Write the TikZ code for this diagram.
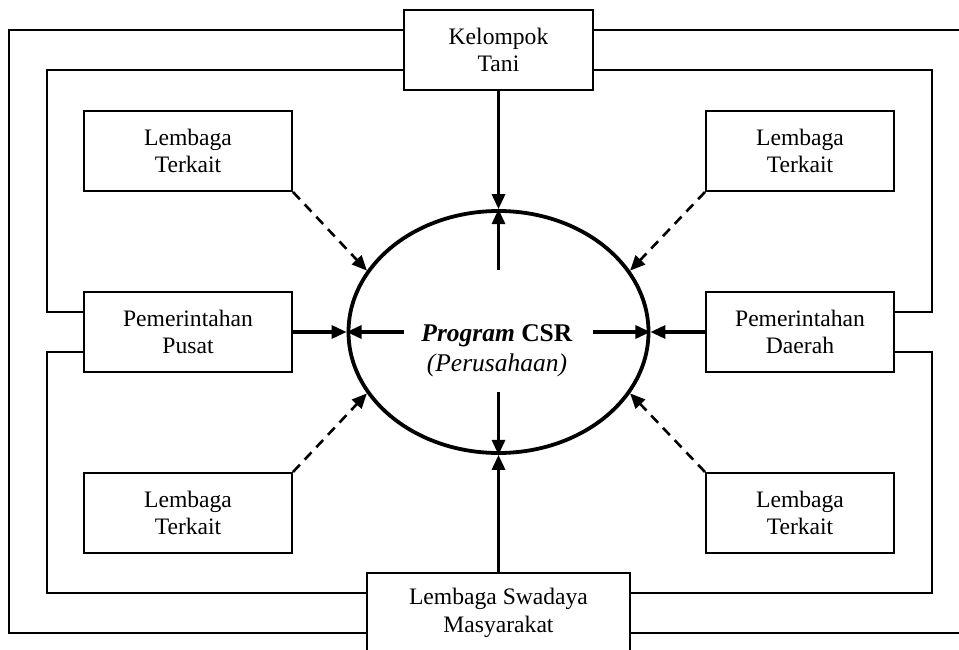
\documentclass[tikz,border=0pt]{standalone}
\usepackage{fontspec}
\setmainfont{Liberation Serif}
\usetikzlibrary{arrows.meta,shapes.geometric}
\begin{document}
\begin{tikzpicture}[x=1pt,y=-1pt,
  boxnode/.style={draw, line width=2pt, minimum height=80pt, inner sep=0pt, align=center,
    font=\fontsize{23.6}{27.5}\selectfont},
  link/.style={line width=1.8pt},
  solidarrow/.style={line width=3.2pt, -{Triangle[length=15pt,width=13pt]}},
  dasharrow/.style={line width=2.6pt, dash pattern=on 10pt off 7pt, -{Triangle[length=15pt,width=13pt]}}
]
\useasboundingbox (0,0) rectangle (959,650);
\fill[white] (0,0) rectangle (959,650);

% boxes
\node[boxnode, minimum width=189pt] (kt) at (498.5,50) {Kelompok\\Tani};
\node[boxnode, minimum width=208pt] (lt1) at (188,151) {Lembaga\\Terkait};
\node[boxnode, minimum width=188pt] (lt2) at (800,151) {Lembaga\\Terkait};
\node[boxnode, minimum width=208pt] (pp) at (188,332) {Pemerintahan\\Pusat};
\node[boxnode, minimum width=188pt] (pd) at (800,332) {Pemerintahan\\Daerah};
\node[boxnode, minimum width=208pt] (lt3) at (188,513) {Lembaga\\Terkait};
\node[boxnode, minimum width=188pt] (lt4) at (800,513) {Lembaga\\Terkait};
\node[boxnode, minimum width=263pt] (lsm) at (498.5,613) {Lembaga Swadaya\\Masyarakat};

% ellipse
\node[draw, ellipse, line width=3.8pt, minimum width=300pt, minimum height=242pt, inner sep=0pt] (ell) at (498.5,332) {};
\node[align=center, font=\fontsize{25.5}{30}\selectfont] (csr) at (497,351)
  {\textbf{\textit{Program}} \textbf{CSR}\\\textit{(Perusahaan)}};

% coordinates for loops
\coordinate (oL) at (9,330);
\coordinate (iL) at (47,200);
\coordinate (iL2) at (47,470);
\coordinate (iR) at (932,200);
\coordinate (iR2) at (932,470);
\coordinate (oR1) at (965,30);
\coordinate (oR2) at (965,633);

% outer loop
\draw[link] ([yshift=20pt]kt.west) -| (oL) |- ([yshift=-20pt]lsm.west);
\draw[link] ([yshift=20pt]kt.east) -- (oR1);
\draw[link] ([yshift=-20pt]lsm.east) -- (oR2);
% inner loops
\draw[link] ([yshift=-20pt]kt.west) -| (iL) |- ([yshift=20pt]pp.west);
\draw[link] ([yshift=-20pt]pp.west) -| (iL2) |- ([yshift=20pt]lsm.west);
\draw[link] ([yshift=-20pt]kt.east) -| (iR) |- ([yshift=20pt]pd.east);
\draw[link] ([yshift=-20pt]pd.east) -| (iR2) |- ([yshift=20pt]lsm.east);

% inner arrow starts
\coordinate (inT) at (498.5,270);
\coordinate (inB) at (498.5,392);
\coordinate (inL) at (404,332);
\coordinate (inR) at (593,332);

% solid arrows
\draw[solidarrow] (kt.south) -- (ell.north);
\draw[solidarrow] (inT) -- (ell.north);
\draw[solidarrow] (lsm.north) -- (ell.south);
\draw[solidarrow] (inB) -- (ell.south);
\draw[solidarrow] (pp.east) -- (ell.west);
\draw[solidarrow] (inL) -- (ell.west);
\draw[solidarrow] (pd.west) -- (ell.east);
\draw[solidarrow] (inR) -- (ell.east);

% dashed arrows
\draw[dasharrow] (lt1.south east) -- (ell.155);
\draw[dasharrow] (lt2.south west) -- (ell.25);
\draw[dasharrow] (lt3.north east) -- (ell.205);
\draw[dasharrow] (lt4.north west) -- (ell.335);
\end{tikzpicture}
\end{document}
